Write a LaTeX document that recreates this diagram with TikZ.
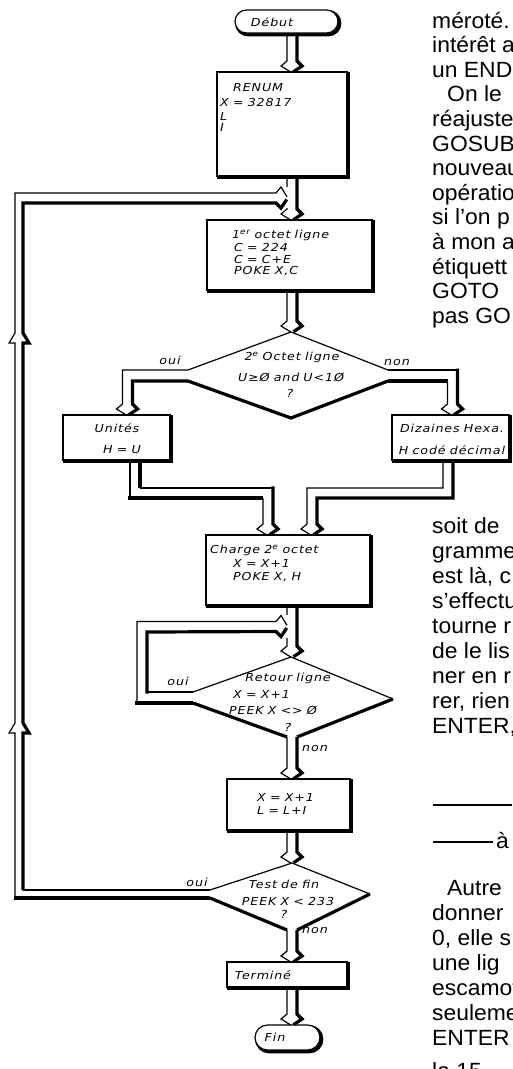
\documentclass[tikz,border=0pt]{standalone}
\usepackage{fontspec}
\setmainfont{Liberation Sans}
\newfontfamily\fcf[FakeStretch=1.15,LetterSpace=8,WordSpace=0.85]{DejaVu Sans}
\newfontfamily\bodyf[FakeStretch=1.04]{Liberation Sans}
\usetikzlibrary{calc}
% arrow-head path pieces (y grows downward)
\newcommand\hdl[2]{-- ({#1-5},{#2-11}) -- ({#1-11},{#2-6}) -- ({#1-1.2},{#2})}
\newcommand\hdr[2]{-- ({#1+5},{#2-11}) -- ({#1+10},{#2-6}) -- ({#1+1.5},{#2-0.3})}
\newcommand\hrt[2]{-- ({#1-11},{#2-5}) -- ({#1-6},{#2-11}) -- ({#1},{#2-1.2})}
\newcommand\hrb[2]{-- ({#1-11},{#2+5}) -- ({#1-6},{#2+10}) -- ({#1-0.3},{#2+1.5})}
% box with drop shadow: [opts]{name}{x}{y}{w}{h}
\newcommand\mkbox[6][]{%
  \node[shdw,#1,minimum width=#5pt,minimum height=#6pt] at ({#3+1.7},{#4+1.7}) {};
  \node[bx,#1,minimum width=#5pt,minimum height=#6pt] (#2) at (#3,#4) {};}
\tikzset{
  thn/.style={line width=1.2pt, line join=miter},
  thk/.style={line width=3.2pt, line join=miter},
  shdw/.style={draw, line width=3.4pt, anchor=north west, inner sep=0pt, outer sep=0pt},
  bx/.style={draw, line width=1.2pt, fill=white, anchor=north west, inner sep=0pt, outer sep=0pt},
  fc/.style={font=\fcf\itshape\fontsize{11}{13}\selectfont, inner sep=0pt},
  fcl/.style={fc, anchor=west},
  body/.style={font=\bodyf\fontsize{22}{24}\selectfont, inner sep=0pt, anchor=base west},
}
\begin{document}
\begin{tikzpicture}[x=1pt,y=-1pt]
\useasboundingbox (0,0) rectangle (512,1069);
\fill[white] (0,0) rectangle (512,1069);
\clip (0,0) rectangle (512,1069);

% ---------- connectors ----------
% Debut -> RENUM
\draw[thn] (287,33) \hdl{292}{72};
\draw[thk] (297,35) \hdr{292}{72};
% RENUM -> 1er octet
\draw[thn] (287,176) \hdl{292}{220};
\draw[thk] (297,178) \hdr{292}{220};
\fill[white] (285.2,187) rectangle (288.8,208);
% big return loop (Test de fin, oui)
\draw[thk] (210,898) -- (13.6,898);
\draw[thn] (15,898) -- (15,733) -- (9,733) -- (15,723) -- (15,343) -- (9,343) -- (15,333) -- (15,193) \hrt{287}{198};
\draw[thn] (210,890) -- (23,890);
\draw[thk] (23,890) -- (23,733) -- (29,733) -- (23,723) -- (23,343) -- (29,343) -- (23,333) -- (23,203) \hrb{287}{198};
% 1er octet -> diamond 1
\draw[thn] (287,290) \hdl{292}{332};
\draw[thk] (297,292) \hdr{292}{332};
% diamond 1
\draw[thn] (188,370) -- (291,332) -- (388,370);
\draw[thk] (188,381) -- (291,418) -- (388,381);
% oui -> Unites
\draw[thn] (188,370) -- (122.5,370) \hdl{127.5}{415};
\draw[thk] (188,381) -- (132.5,381) \hdr{127.5}{415};
% non -> Dizaines
\draw[thn] (388,370) -- (459,370);
\draw[thk] (457.5,368.5) \hdr{452.5}{415};
\draw[thk] (388,381) -- (447.5,381);
\draw[thn] (447.5,381) \hdl{452.5}{415};
% Unites -> Charge
\draw[thn] (130,460) -- (130,498);
\draw[thk] (128.4,498) -- (263,498);
\draw[thn] (263,498) \hdl{268}{535};
\draw[thk] (140,462) -- (140,488);
\draw[thn] (140,488) -- (273,488);
\draw[thk] (273,486.4) \hdr{268}{535};
% Dizaines -> Charge
\draw[thk] (453,462) -- (453,498) -- (317,498) \hdr{312}{535};
\draw[thn] (443,460) -- (443,488) -- (307,488) \hdl{312}{535};
% Charge -> Retour
\draw[thn] (287,605) \hdl{292}{657};
\draw[thk] (297,607) \hdr{292}{657};
\fill[white] (285.2,615) rectangle (288.8,638);
% Retour loop (oui)
\draw[thn] (193,692) -- (147,692);
\draw[thk] (147,693.6) -- (147,632) \hrb{287}{626.5};
\draw[thk] (193,703) -- (135.4,703);
\draw[thn] (137,703) -- (137,621.5) \hrt{287}{626.5};
% Retour diamond
\draw[thn] (193,692) -- (291,657) -- (393,699);
\draw[thk] (393,699) -- (297,737);
\draw[thk] (193,703) -- (287,737);
% Retour -> X box
\draw[thn] (287,737) \hdl{292}{779};
\draw[thk] (297,737) \hdr{292}{779};
% X box -> Test
\draw[thn] (287,830) \hdl{292}{863};
\draw[thk] (297,832) \hdr{292}{863};
% Test diamond
\draw[thn] (210,890) -- (292,863) -- (370,894);
\draw[thk] (370,894) -- (297,930);
\draw[thk] (210,898) -- (287,930);
% Test -> Termine
\draw[thn] (287,930) \hdl{292}{962};
\draw[thk] (297,930) \hdr{292}{962};
% Termine -> Fin
\draw[thn] (287,987) \hdl{292}{1025};
\draw[thk] (297,989) \hdr{292}{1025};

% ---------- boxes ----------
\mkbox[rounded corners=11.5pt]{debut}{235}{10}{103}{23}
\mkbox{renum}{217}{72}{130}{104}
\mkbox{oct1}{207}{220}{165}{70}
\mkbox{unites}{63}{415}{107}{45}
\mkbox{diz}{392}{415}{117}{45}
\mkbox{charge}{206}{535}{164}{70}
\mkbox{xbox}{227}{779}{123}{51}
\mkbox{termine}{227}{962}{120}{25}
\mkbox[rounded corners=12.5pt]{fin}{255}{1025}{65}{25}

% ---------- flowchart texts ----------
\node[fc] (tdebut) at (272,22) {Début};
\node[fcl] (tr1) at (233,88) {RENUM};
\node[fcl] (tr2) at (220,102) {X = 32817};
\node[fcl] (tr3) at (220,116) {L};
\node[fcl] (tr4) at (220,127) {I};
\node[fcl] (to1) at (232,235) {1\textsuperscript{er} octet ligne};
\node[fcl] (to2) at (234,247) {C = 224};
\node[fcl] (to3) at (234,259) {C = C+E};
\node[fcl] (to4) at (234,271) {POKE X,C};
\node[fc] (td1a) at (292,357) {2\textsuperscript{e} Octet ligne};
\node[fc] (td1b) at (291,377) {U≥Ø and U<1Ø};
\node[fc] (td1c) at (290,393) {?};
\node[fc] (td1oui) at (170,360) {oui};
\node[fc] (td1non) at (397,362) {non};
\node[fc] (tu1) at (117,428) {Unités};
\node[fc] (tu2) at (122,450) {H = U};
\node[fc] (tz1) at (452,428) {Dizaines Hexa.};
\node[fc] (tz2) at (452,450) {H codé décimal};
\node[fcl] (tc1) at (210,550) {Charge 2\textsuperscript{e} octet};
\node[fcl] (tc2) at (233,563) {X = X+1};
\node[fcl] (tc3) at (233,577) {POKE X, H};
\node[fc] (troui) at (178,681) {oui};
\node[fc] (tra) at (288,678) {Retour ligne};
\node[fcl] (trb) at (233,694) {X = X+1};
\node[fcl] (trc) at (229,710) {PEEK X <> Ø};
\node[fc] (trd) at (288,727) {?};
\node[fc] (trnon) at (315,748) {non};
\node[fcl] (tx1) at (257,797) {X = X+1};
\node[fcl] (tx2) at (257,810) {L = L+I};
\node[fc] (ttoui) at (197,882) {oui};
\node[fc] (tta) at (284,884) {Test de fin};
\node[fc] (ttb) at (288,901) {PEEK X < 233};
\node[fc] (ttc) at (284,914) {?};
\node[fc] (ttnon) at (315,930) {non};
\node[fc] (tterm) at (263,975) {Terminé};
\node[fc] (tfin) at (275,1037) {Fin};

% ---------- body text (right column) ----------
\node[body] (b1) at (432,28) {méroté.};
\node[body] (b2) at (432,52.6) {intérêt a};
\node[body] (b3) at (432,77.2) {un END};
\node[body] (b4) at (447,101.8) {On le};
\node[body] (b5) at (432,126.4) {réajuste};
\node[body] (b6) at (432,151) {GOSUB};
\node[body] (b7) at (432,175.6) {nouveau};
\node[body] (b8) at (432,200.2) {opératio};
\node[body] (b9) at (432,224.8) {si l’on p};
\node[body] (b10) at (432,249.4) {à mon a};
\node[body] (b11) at (432,274) {étiquett};
\node[body] (b12) at (432,298.6) {GOTO};
\node[body] (b13) at (432,323.2) {pas GO};

\node[body] (m1) at (432,533) {soit de};
\node[body] (m2) at (432,558) {gramme};
\node[body] (m3) at (432,583) {est là, c};
\node[body] (m4) at (432,608) {s’effectu};
\node[body] (m5) at (432,633) {tourne r};
\node[body] (m6) at (432,658) {de le lis};
\node[body] (m7) at (432,683) {ner en r};
\node[body] (m8) at (432,708) {rer, rien};
\node[body] (m9) at (432,733) {ENTER,};

\coordinate (ra) at (433,805);
\coordinate (rb) at (512,805);
\coordinate (rc) at (433,842);
\coordinate (rd) at (493,842);
\draw[line width=1.3pt] (ra) -- (rb);
\draw[line width=1.3pt] (rc) -- (rd);
\node[body] (ra2) at (496,848) {à};

\node[body] (e1) at (447,895) {Autre};
\node[body] (e2) at (432,920) {donner};
\node[body] (e3) at (432,945) {0, elle s};
\node[body] (e4) at (432,970) {une lig};
\node[body] (e5) at (432,995) {escamot};
\node[body] (e6) at (432,1020) {seuleme};
\node[body] (e7) at (432,1045) {ENTER};
\node[body] (e8) at (432,1078) {la 15};
\end{tikzpicture}
\end{document}
